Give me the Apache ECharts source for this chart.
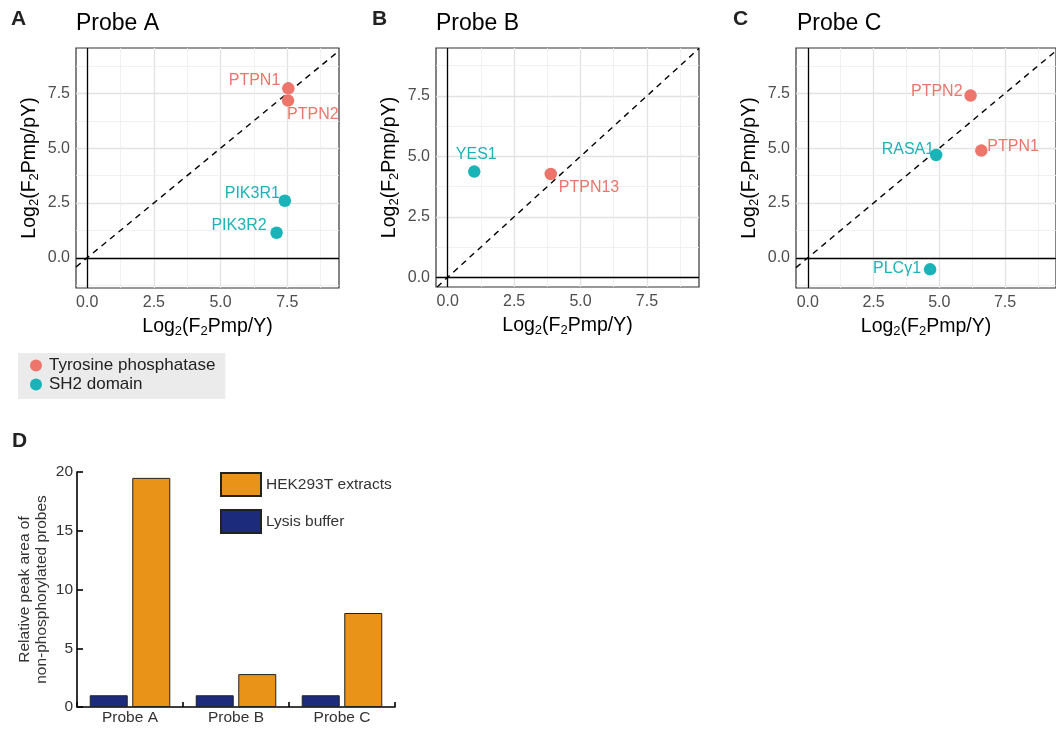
<!DOCTYPE html>
<html>
<head>
<meta charset="utf-8">
<script src="https://cdn.jsdelivr.net/npm/echarts@6/dist/echarts.min.js"></script>
<style>
html, body { margin: 0; padding: 0; background: #fff; }
#main { width: 1056px; height: 729px; }
</style>
</head>
<body>
<div id="main"></div>
<script>
// scatter data: [Log2(F2Pmp/Y), Log2(F2Pmp/pY)]
var phosA = [[7.54, 7.73], [7.53, 7.17]];
var phosANames = ['PTPN1', 'PTPN2'];
var sh2A = [[7.41, 2.60], [7.10, 1.14]];
var sh2ANames = ['PIK3R1', 'PIK3R2'];

var phosB = [[3.88, 4.27]];
var phosBNames = ['PTPN13'];
var sh2B = [[1.00, 4.37]];
var sh2BNames = ['YES1'];

var phosC = [[6.19, 7.40], [6.60, 4.89]];
var phosCNames = ['PTPN2', 'PTPN1'];
var sh2C = [[4.88, 4.69], [4.65, -0.53]];
var sh2CNames = ['RASA1', 'PLCγ1'];

var majorTicks = [0, 2.5, 5, 7.5];
var minorTicks = [-1.25, 1.25, 3.75, 6.25, 8.75];

// bar data
var barCategories = ['Probe A', 'Probe B', 'Probe C'];
var lysisValues = [1, 1, 1];
var hekValues = [19.5, 2.8, 8.0];

var RED = '#ED756B';
var CYAN = '#1AB4B8';
var FONT = 'Liberation Sans, Arial, Helvetica, sans-serif';

// label placement (align, offset from point centre)
var labelA = {
    phos: [['right', [-8, -8]], ['left', [-1, 14]]],
    sh2: [['right', [-5, -7]], ['right', [-10, -7]]]
};
var labelB = {
    phos: [['left', [8, 14]]],
    sh2: [['center', [2, -17]]]
};
var labelC = {
    phos: [['right', [-8, -4]], ['left', [6, -4]]],
    sh2: [['right', [-2, -5]], ['right', [-9, -1]]]
};

var panels = [
    { grid: { left: 76, top: 48, width: 263, height: 240 }, x: [-0.42, 9.44], y: [-1.38, 9.57],
      phos: phosA, phosNames: phosANames, sh2: sh2A, sh2Names: sh2ANames, lab: labelA },
    { grid: { left: 436, top: 48, width: 263, height: 239 }, x: [-0.44, 9.46], y: [-0.40, 9.48],
      phos: phosB, phosNames: phosBNames, sh2: sh2B, sh2Names: sh2BNames, lab: labelB },
    { grid: { left: 796, top: 48, width: 263, height: 240 }, x: [-0.45, 9.44], y: [-1.38, 9.57],
      phos: phosC, phosNames: phosCNames, sh2: sh2C, sh2Names: sh2CNames, lab: labelC }
];

var subRich = {
    n: { fontSize: 19.5, color: '#000', fontFamily: FONT },
    s: { fontSize: 13, color: '#000', fontFamily: FONT, padding: [10, 0, 0, 0] }
};

function inRange(v, r) { return v > r[0] && v < r[1]; }

function pointData(points, names, lab) {
    return points.map(function (p, i) {
        return {
            value: p,
            name: names[i],
            label: { align: lab[i][0], offset: lab[i][1] }
        };
    });
}

var grids = [], xAxes = [], yAxes = [], series = [];

panels.forEach(function (p, i) {
    grids.push(Object.assign({ show: true, borderColor: '#333', borderWidth: 1.2, backgroundColor: '#fff' }, p.grid));

    var tickCfg = { show: true, length: 4, lineStyle: { color: '#333', width: 1 } };
    xAxes.push({
        gridIndex: i, type: 'value', min: p.x[0], max: p.x[1],
        axisLine: { show: false }, splitLine: { show: false },
        axisTick: Object.assign({ customValues: majorTicks }, tickCfg),
        axisLabel: { customValues: majorTicks, formatter: function (v) { return v.toFixed(1); },
                     color: '#4d4d4d', fontSize: 16, margin: 7, fontFamily: FONT },
        name: '{n|Log}{s|2}{n|(F}{s|2}{n|Pmp/Y)}', nameLocation: 'middle', nameGap: 27,
        nameTextStyle: { rich: subRich }
    });
    yAxes.push({
        gridIndex: i, type: 'value', min: p.y[0], max: p.y[1],
        axisLine: { show: false }, splitLine: { show: false },
        axisTick: Object.assign({ customValues: majorTicks }, tickCfg),
        axisLabel: { customValues: majorTicks, formatter: function (v) { return v.toFixed(1); },
                     color: '#4d4d4d', fontSize: 16, margin: 6, fontFamily: FONT },
        name: '{n|Log}{s|2}{n|(F}{s|2}{n|Pmp/pY)}', nameLocation: 'middle', nameGap: 35,
        nameTextStyle: { rich: subRich }
    });

    // background grid lines
    var gl = [];
    majorTicks.forEach(function (v) {
        if (inRange(v, p.x)) gl.push({ xAxis: v, lineStyle: { color: '#e2e2e2', width: 1.3, type: 'solid' } });
        if (inRange(v, p.y)) gl.push({ yAxis: v, lineStyle: { color: '#e2e2e2', width: 1.3, type: 'solid' } });
    });
    minorTicks.forEach(function (v) {
        if (inRange(v, p.x)) gl.push({ xAxis: v, lineStyle: { color: '#eeeeee', width: 0.8, type: 'solid' } });
        if (inRange(v, p.y)) gl.push({ yAxis: v, lineStyle: { color: '#eeeeee', width: 0.8, type: 'solid' } });
    });
    series.push({
        type: 'line', xAxisIndex: i, yAxisIndex: i, data: [], silent: true, z: 1,
        markLine: { silent: true, symbol: 'none', animation: false, label: { show: false }, data: gl }
    });

    // zero lines and y = x
    var lo = Math.max(p.x[0], p.y[0]) + 0.001;
    var hi = Math.min(p.x[1], p.y[1]) - 0.001;
    series.push({
        type: 'line', xAxisIndex: i, yAxisIndex: i, data: [], silent: true, z: 2,
        markLine: {
            silent: true, symbol: 'none', animation: false, label: { show: false },
            data: [
                { xAxis: 0, lineStyle: { color: '#000', width: 1.3, type: 'solid' } },
                { yAxis: 0, lineStyle: { color: '#000', width: 1.3, type: 'solid' } },
                [{ coord: [lo, lo], lineStyle: { color: '#000', width: 1.4, type: [6, 5] } }, { coord: [hi, hi] }]
            ]
        }
    });

    var labelBase = { show: true, position: 'inside', verticalAlign: 'middle', formatter: '{b}',
                      fontSize: 16, fontFamily: FONT, textBorderWidth: 0 };
    series.push({
        name: 'Tyrosine phosphatase', type: 'scatter', xAxisIndex: i, yAxisIndex: i, z: 5,
        symbolSize: 12.5, itemStyle: { color: RED, opacity: 1 },
        label: Object.assign({ color: RED }, labelBase),
        data: pointData(p.phos, p.phosNames, p.lab.phos)
    });
    series.push({
        name: 'SH2 domain', type: 'scatter', xAxisIndex: i, yAxisIndex: i, z: 5,
        symbolSize: 12.5, itemStyle: { color: CYAN, opacity: 1 },
        label: Object.assign({ color: CYAN }, labelBase),
        data: pointData(p.sh2, p.sh2Names, p.lab.sh2)
    });
});

// panel D
grids.push({ left: 77, top: 472, width: 318, height: 235 });
xAxes.push({
    gridIndex: 3, type: 'category', data: barCategories,
    axisLine: { show: true, lineStyle: { color: '#000', width: 1.6 } },
    axisTick: { show: true, inside: true, length: 5, lineStyle: { color: '#000', width: 1.6 } },
    axisLabel: { color: '#333', fontSize: 15.5, margin: 3, fontFamily: FONT },
    splitLine: { show: false }
});
yAxes.push({
    gridIndex: 3, type: 'value', min: 0, max: 20, interval: 5,
    axisLine: { show: true, lineStyle: { color: '#000', width: 1.6 } },
    axisTick: { show: true, inside: true, length: 6, lineStyle: { color: '#000', width: 1.6 } },
    axisLabel: { color: '#333', fontSize: 15.5, margin: 4, fontFamily: FONT },
    splitLine: { show: false },
    name: 'Relative peak area of\nnon-phosphorylated probes', nameLocation: 'middle', nameGap: 27,
    nameTextStyle: { color: '#333', fontSize: 15.5, lineHeight: 17, fontFamily: FONT }
});
series.push({
    name: 'Lysis buffer', type: 'bar', xAxisIndex: 3, yAxisIndex: 3, data: lysisValues,
    barWidth: 38, barGap: '12%',
    itemStyle: { color: '#1C2B7B', borderColor: '#222', borderWidth: 1 }
});
series.push({
    name: 'HEK293T extracts', type: 'bar', xAxisIndex: 3, yAxisIndex: 3, data: hekValues,
    barWidth: 38, barGap: '12%',
    itemStyle: { color: '#E99318', borderColor: '#222', borderWidth: 1 }
});

var myChart = echarts.init(document.getElementById('main'), null, { renderer: 'canvas' });

myChart.setOption({
    animation: false,
    backgroundColor: '#fff',
    textStyle: { fontFamily: FONT },
    title: [
        { text: 'A', left: 11, top: 9, padding: 0, textStyle: { fontSize: 21, fontWeight: 'bold', color: '#222' } },
        { text: 'Probe A', left: 76, top: 12, padding: 0, textStyle: { fontSize: 23, fontWeight: 'normal', color: '#000' } },
        { text: 'B', left: 372, top: 9, padding: 0, textStyle: { fontSize: 21, fontWeight: 'bold', color: '#222' } },
        { text: 'Probe B', left: 436, top: 12, padding: 0, textStyle: { fontSize: 23, fontWeight: 'normal', color: '#000' } },
        { text: 'C', left: 733, top: 9, padding: 0, textStyle: { fontSize: 21, fontWeight: 'bold', color: '#222' } },
        { text: 'Probe C', left: 797, top: 12, padding: 0, textStyle: { fontSize: 23, fontWeight: 'normal', color: '#000' } },
        { text: 'D', left: 12, top: 431, padding: 0, textStyle: { fontSize: 21, fontWeight: 'bold', color: '#222' } }
    ],
    legend: [
        {
            data: ['Tyrosine phosphatase', 'SH2 domain'],
            orient: 'vertical', left: 18, top: 353,
            backgroundColor: '#ebebeb', borderRadius: 0,
            padding: [4, 10, 6, 12], itemGap: 2,
            icon: 'circle', itemWidth: 16, itemHeight: 12,
            textStyle: { fontSize: 17, color: '#222', fontFamily: FONT }
        },
        {
            data: ['HEK293T extracts', 'Lysis buffer'],
            orient: 'vertical', left: 220, top: 472, padding: 0,
            itemGap: 12, itemWidth: 40, itemHeight: 23, icon: 'rect',
            textStyle: { fontSize: 15.5, color: '#333', fontFamily: FONT }
        }
    ],
    grid: grids,
    xAxis: xAxes,
    yAxis: yAxes,
    series: series
});
</script>
</body>
</html>
